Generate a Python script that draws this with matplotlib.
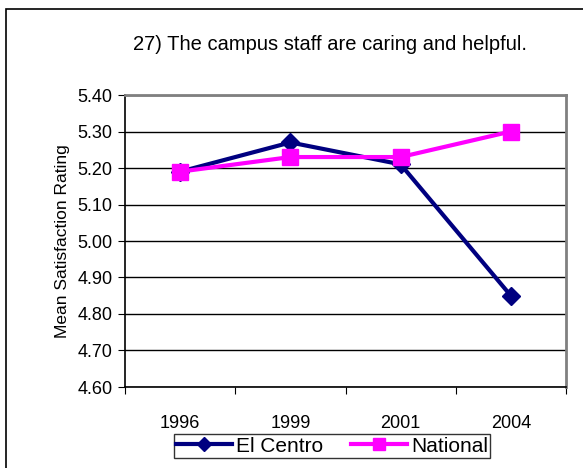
import matplotlib
matplotlib.use('Agg')
import matplotlib.pyplot as plt
from matplotlib.patches import Rectangle

years = ['1996', '1999', '2001', '2004']
el_centro = [5.19, 5.27, 5.21, 4.85]
national = [5.19, 5.23, 5.23, 5.30]
yticks = [4.60, 4.70, 4.80, 4.90, 5.00, 5.10, 5.20, 5.30, 5.40]

plt.rcParams['font.family'] = ['Liberation Sans', 'DejaVu Sans']

fig = plt.figure(figsize=(5.83, 4.68), dpi=100)
# outer chart frame (right and bottom edges run off the picture)
fig.patches.append(Rectangle((6/583, -0.05), 1.1, 1.05 - 9/468, transform=fig.transFigure,
                             fill=False, edgecolor='black', linewidth=1.2, clip_on=False))

ax = fig.add_axes([125/583, 1 - 387/468, 441/583, 292/468])
x = [0.5, 1.5, 2.5, 3.5]
ax.plot(x, el_centro, color='#000080', linewidth=3, marker='D', markersize=9,
        label='El Centro', zorder=3)
ax.plot(x, national, color='#FF00FF', linewidth=3, marker='s', markersize=12,
        label='National', zorder=4)

ax.set_xlim(0, 4)
ax.set_ylim(4.6, 5.4)
ax.set_yticks(yticks)
ax.set_yticklabels(['%.2f' % v for v in yticks], fontsize=13)
ax.set_xticks([0, 1, 2, 3, 4])
ax.set_xticklabels([])
ax.set_xticks(x, minor=True)
ax.set_xticklabels(years, minor=True, fontsize=13)
ax.tick_params(axis='x', which='minor', length=0, pad=20)
ax.tick_params(axis='x', which='major', direction='out', length=5)
ax.tick_params(axis='y', direction='out', length=5, pad=4)
ax.grid(axis='y', color='black', linewidth=1)
ax.set_axisbelow(True)
for s in ['top', 'right']:
    ax.spines[s].set_color('#808080')
    ax.spines[s].set_linewidth(2)
ax.spines['left'].set_linewidth(1.2)
ax.spines['bottom'].set_linewidth(1.2)

ax.set_ylabel('Mean Satisfaction Rating', fontsize=12.5, labelpad=5)
fig.text(330/583, 1 - 45/468, '27) The campus staff are caring and helpful.',
         ha='center', va='center', fontsize=14.5)

leg = fig.legend(loc='center', bbox_to_anchor=(332/583, 1 - 446/468), ncol=2,
                 frameon=True, fancybox=False, edgecolor='black',
                 prop={'size': 15},
                 handlelength=2.7, columnspacing=1.3, handletextpad=0.2,
                 borderpad=0.1, borderaxespad=0, markerscale=0.75)
leg.get_frame().set_linewidth(1)

fig.savefig('out.png', dpi=100)
